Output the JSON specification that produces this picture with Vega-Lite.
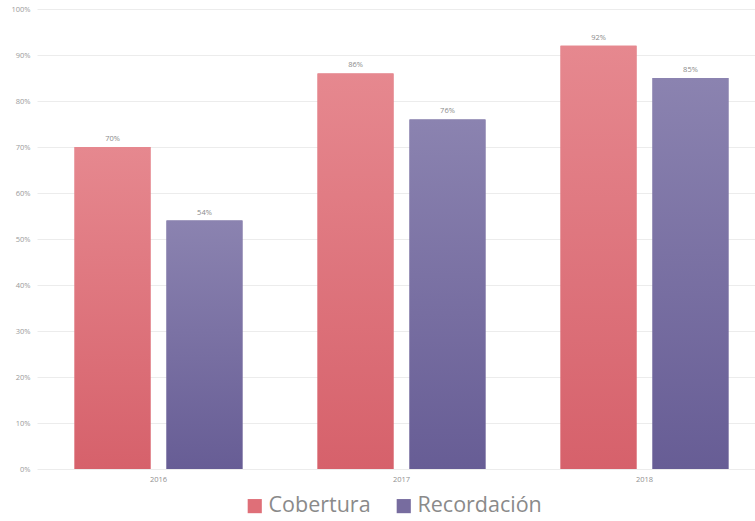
{
  "$schema": "https://vega.github.io/schema/vega-lite/v6.json",
  "width": 718,
  "height": 460,
  "autosize": "none",
  "padding": {"left": 37, "top": 9, "right": 0, "bottom": 52},
  "background": "white",
  "config": {"view": {"stroke": null}, "font": "Open Sans"},
  "data": {
    "values": [
      {"anio": "2016", "serie": "Cobertura", "valor": 0.70},
      {"anio": "2016", "serie": "Recordación", "valor": 0.54},
      {"anio": "2017", "serie": "Cobertura", "valor": 0.86},
      {"anio": "2017", "serie": "Recordación", "valor": 0.76},
      {"anio": "2018", "serie": "Cobertura", "valor": 0.92},
      {"anio": "2018", "serie": "Recordación", "valor": 0.85}
    ]
  },
  "encoding": {
    "x": {
      "field": "anio",
      "type": "nominal",
      "scale": {"range": [0, 729], "paddingInner": 0.309, "paddingOuter": 0.1545},
      "axis": {"title": null, "labelAngle": 0, "domain": false, "ticks": false, "labelFontSize": 7.5, "labelColor": "#8f8f8f", "labelPadding": 6}
    },
    "xOffset": {
      "field": "serie",
      "type": "nominal",
      "sort": ["Cobertura", "Recordación"],
      "scale": {"paddingInner": 0.174, "paddingOuter": 0}
    },
    "y": {
      "field": "valor",
      "type": "quantitative",
      "scale": {"domain": [0, 1], "nice": false},
      "axis": {"title": null, "format": ".0%", "values": [0, 0.1, 0.2, 0.3, 0.4, 0.5, 0.6, 0.7, 0.8, 0.9, 1], "labelOverlap": false, "domain": false, "ticks": false, "grid": true, "gridColor": "#ececec", "labelFontSize": 7.5, "labelColor": "#9a9a9a", "labelPadding": 7}
    }
  },
  "layer": [
    {
      "mark": {"type": "bar"},
      "encoding": {
        "color": {
          "field": "serie",
          "type": "nominal",
          "sort": ["Cobertura", "Recordación"],
          "scale": {"domain": ["Cobertura", "Recordación"], "range": ["#df6f78", "#776c9f"]},
          "legend": {
            "title": null,
            "orient": "none",
            "direction": "horizontal",
            "legendX": 207,
            "legendY": 486,
            "symbolType": "square",
            "symbolSize": 200,
            "symbolStrokeWidth": 0,
            "labelFontSize": 21.5,
            "labelColor": "#8a8a8a",
            "labelOffset": 3,
            "columnPadding": 22
          }
        }
      }
    },
    {
      "transform": [{"filter": "datum.serie === 'Cobertura'"}],
      "mark": {
        "type": "bar",
        "color": {
          "gradient": "linear", "x1": 0, "y1": 0, "x2": 0, "y2": 1,
          "stops": [{"offset": 0, "color": "#e6888f"}, {"offset": 1, "color": "#d6616b"}]
        }
      }
    },
    {
      "transform": [{"filter": "datum.serie === 'Recordación'"}],
      "mark": {
        "type": "bar",
        "color": {
          "gradient": "linear", "x1": 0, "y1": 0, "x2": 0, "y2": 1,
          "stops": [{"offset": 0, "color": "#8b83b0"}, {"offset": 1, "color": "#675d95"}]
        }
      }
    },
    {
      "mark": {"type": "text", "dy": -8, "fontSize": 7.5, "color": "#8a8a8a"},
      "encoding": {"text": {"field": "valor", "type": "quantitative", "format": ".0%"}}
    }
  ]
}
